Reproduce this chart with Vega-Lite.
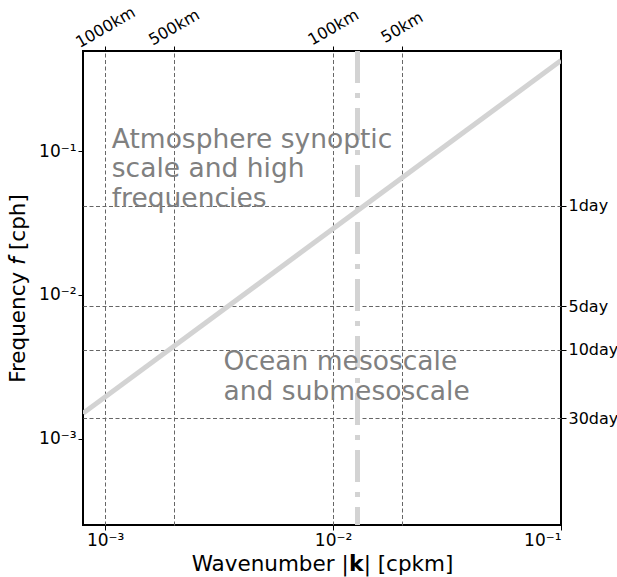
{
  "$schema": "https://vega.github.io/schema/vega-lite/v6.json",
  "width": 478,
  "height": 474,
  "autosize": "none",
  "padding": {"left": 83, "top": 51, "right": 56, "bottom": 52},
  "background": "white",
  "config": {
    "font": "DejaVu Sans",
    "view": {"stroke": "black", "strokeWidth": 2},
    "axis": {
      "domain": false,
      "grid": false,
      "ticks": true,
      "tickColor": "black",
      "tickSize": 5,
      "tickWidth": 1,
      "labelFont": "DejaVu Sans",
      "labelFontSize": 15,
      "labelColor": "black",
      "labelPadding": 2,
      "titleFont": "DejaVu Sans",
      "titleFontSize": 21.5,
      "titleFontWeight": "normal",
      "titleColor": "black"
    }
  },
  "resolve": {"axis": {"x": "independent", "y": "independent"}},
  "layer": [
    {
      "data": {"values": [{"k": 0.0008, "f": 0.0015}, {"k": 0.1, "f": 0.43}]},
      "mark": {"type": "line", "color": "#d3d3d3", "strokeWidth": 5, "clip": true},
      "encoding": {
        "x": {
          "field": "k", "type": "quantitative",
          "scale": {"type": "log", "domain": [0.0008, 0.1], "nice": false},
          "axis": {
            "orient": "bottom",
            "values": [0.001, 0.01, 0.1],
            "labelExpr": "datum.value < 0.005 ? '10⁻³' : datum.value < 0.05 ? '10⁻²' : '10⁻¹'",
            "labelFontSize": 17,
            "title": "Wavenumber |𝗸| [cpkm]",
            "titlePadding": 5
          }
        },
        "y": {
          "field": "f", "type": "quantitative",
          "scale": {"type": "log", "domain": [0.00025, 0.5], "nice": false},
          "axis": {
            "orient": "left",
            "values": [0.001, 0.01, 0.1],
            "labelExpr": "datum.value < 0.005 ? '10⁻³' : datum.value < 0.05 ? '10⁻²' : '10⁻¹'",
            "labelFontSize": 17,
            "title": "Frequency 𝘧 [cph]",
            "titlePadding": 9
          }
        }
      }
    },
    {
      "data": {"values": [{"k": 0.0128}]},
      "mark": {"type": "rule", "color": "#d3d3d3", "strokeWidth": 5, "strokeDash": [32, 10, 5, 10]},
      "encoding": {
        "x": {"field": "k", "type": "quantitative", "axis": null}
      }
    },
    {
      "data": {"values": [
        {"k": 0.00107, "f": 0.106, "label": "Atmosphere synoptic\nscale and high\nfrequencies"},
        {"k": 0.00331, "f": 0.003, "label": "Ocean mesoscale\nand submesoscale"}
      ]},
      "mark": {"type": "text", "align": "left", "baseline": "alphabetic", "fontSize": 26.5, "lineHeight": 29.5, "color": "#808080", "lineBreak": "\n"},
      "encoding": {
        "x": {
          "field": "k", "type": "quantitative",
          "axis": {
            "orient": "top",
            "values": [0.001, 0.002, 0.01, 0.02],
            "labelExpr": "format(1/datum.value, 'd') + 'km'",
            "labelAngle": -30,
            "labelAlign": "center",
            "labelBaseline": "middle",
            "labelFontSize": 16,
            "labelPadding": 19,
            "grid": true,
            "gridColor": "#666666",
            "gridDash": [4, 2.5],
            "gridWidth": 1,
            "title": null
          }
        },
        "y": {
          "field": "f", "type": "quantitative",
          "axis": {
            "orient": "right",
            "values": [0.0416667, 0.00833333, 0.00416667, 0.00138889],
            "labelExpr": "format(1/(24*datum.value), 'd') + 'day'",
            "labelFontSize": 16,
            "grid": true,
            "gridColor": "#666666",
            "gridDash": [4, 2.5],
            "gridWidth": 1,
            "title": null
          }
        },
        "text": {"field": "label"}
      }
    }
  ]
}
